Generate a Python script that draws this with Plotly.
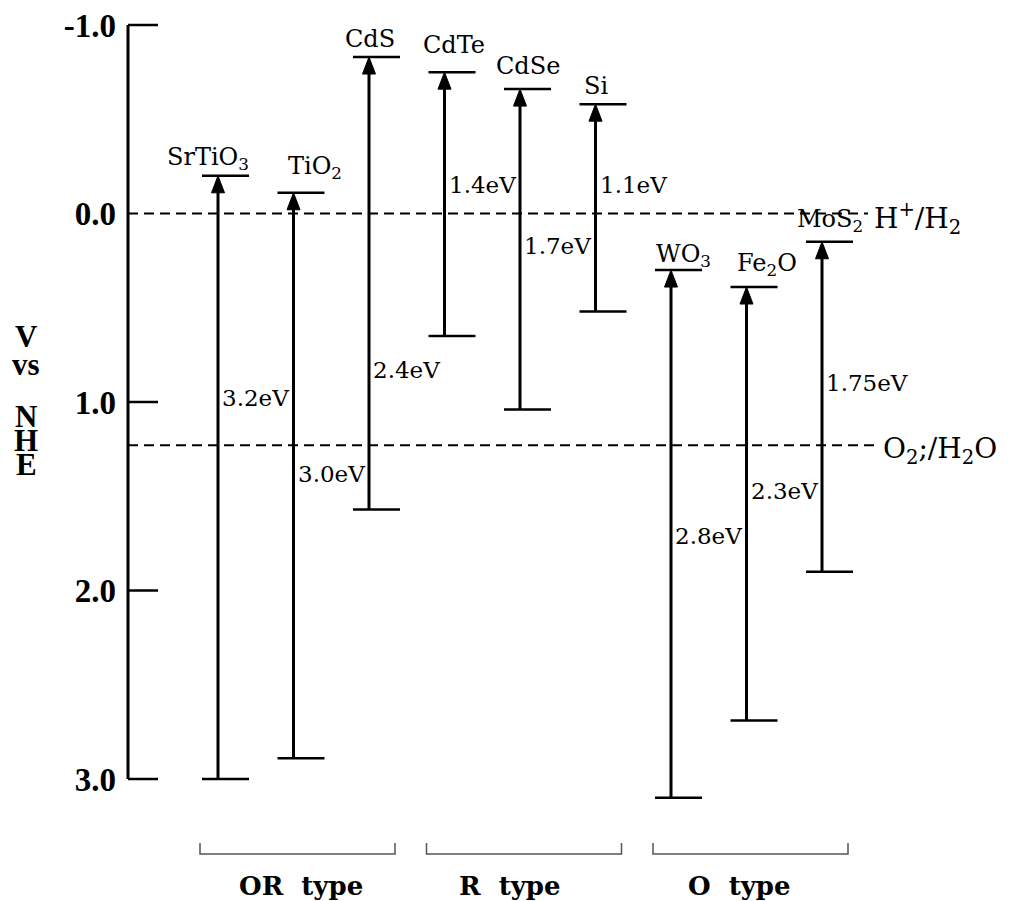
import plotly.graph_objects as go

# ---- data -------------------------------------------------------------
materials = ["SrTiO<sub>3</sub>", "TiO<sub>2</sub>", "CdS", "CdTe", "CdSe", "Si",
             "WO<sub>3</sub>", "Fe<sub>2</sub>O", "MoS<sub>2</sub>"]
conduction_band = [-0.20, -0.11, -0.83, -0.75, -0.66, -0.58, 0.30, 0.39, 0.15]  # V vs NHE
band_gap = [3.2, 3.0, 2.4, 1.4, 1.7, 1.1, 2.8, 2.3, 1.75]                       # eV
gap_labels = ["3.2eV", "3.0eV", "2.4eV", "1.4eV", "1.7eV", "1.1eV", "2.8eV", "2.3eV", "1.75eV"]

redox_potentials = [0.0, 1.23]
redox_labels = ["H<sup>+</sup>/H<sub>2</sub>", "O<sub>2</sub>;/H<sub>2</sub>O"]

group_names = ["OR  type", "R  type", "O  type"]
group_first = [0, 3, 6]
group_last = [2, 5, 8]

tick_values = [-1.0, 0.0, 1.0, 2.0, 3.0]
tick_text = ["-1.0", "0.0", "1.0", "2.0", "3.0"]

valence_band = [c + g for c, g in zip(conduction_band, band_gap)]

# ---- layout constants -------------------------------------------------
FIG_W, FIG_H = 1013, 901
X_PX = 75.5          # pixels per material slot
X_ORIGIN_PX = 218    # pixel column of the first material
Y_PX = 188.5         # pixels per volt
Y_ZERO_PX = 213.5    # pixel row of 0 V
AXIS_PX = 128

x_range = [-X_ORIGIN_PX / X_PX, (FIG_W - X_ORIGIN_PX) / X_PX]
y_range = [(FIG_H - Y_ZERO_PX) / Y_PX, -Y_ZERO_PX / Y_PX]
axis_x = (AXIS_PX - X_ORIGIN_PX) / X_PX


def dx(px):
    return px / X_PX


def dy(px):
    return px / Y_PX


SERIF = "DejaVu Serif"
SERIF_B = "Liberation Serif"

# label placement (pixels relative to the top of each bar)
name_dx = [-10, 21, 1, 9, 8, 0, 12, 20, 8]
name_dy = [4, 12, 6, 15, 11, 6, 1, 9, 8]
# vertical position of the band-gap labels (volts)
gap_label_y = [0.98, 1.38, 0.83, -0.15, 0.17, -0.15, 1.71, 1.47, 0.90]
# horizontal nudge of the group captions (pixels)
group_label_dx = [3, -14, -11]

fig = go.Figure()

idx = list(range(len(materials)))

# vertical band lines
xs, ys = [], []
for i in idx:
    xs += [i, i, None]
    ys += [valence_band[i], conduction_band[i] + dy(8), None]
fig.add_trace(go.Scatter(x=xs, y=ys, mode="lines",
                         line=dict(color="black", width=3), hoverinfo="skip"))

# band edge caps
xs, ys = [], []
for i in idx:
    for lev in (conduction_band[i], valence_band[i]):
        xs += [i - dx(16), i + dx(31), None]
        ys += [lev, lev, None]
fig.add_trace(go.Scatter(x=xs, y=ys, mode="lines",
                         line=dict(color="black", width=2.5), hoverinfo="skip"))

# arrow heads at the conduction band
xs, ys = [], []
for i in idx:
    cb = conduction_band[i]
    xs += [i - dx(6.5), i + dx(6.5), i, i - dx(6.5), None]
    ys += [cb + dy(17), cb + dy(17), cb, cb + dy(17), None]
fig.add_trace(go.Scatter(x=xs, y=ys, mode="lines", fill="toself",
                         fillcolor="black", line=dict(color="black", width=1),
                         hoverinfo="skip"))

shapes = []
annotations = []

# y axis line
shapes.append(dict(type="line", xref="x", yref="y", x0=axis_x, x1=axis_x,
                   y0=tick_values[0], y1=tick_values[-1],
                   line=dict(color="black", width=3)))

# tick marks (the 0 V tick is covered by the H+/H2 dashed level)
for tv in tick_values:
    if tv in redox_potentials:
        continue
    shapes.append(dict(type="line", xref="x", yref="y", x0=axis_x, x1=axis_x + dx(30),
                       y0=tv, y1=tv, line=dict(color="black", width=2.5)))

# redox reference levels
redox_end = [len(materials) - 1 + dx(46), len(materials) - 1 + dx(55)]
for pot, lab, xe in zip(redox_potentials, redox_labels, redox_end):
    shapes.append(dict(type="line", xref="x", yref="y", x0=axis_x, x1=xe,
                       y0=pot, y1=pot,
                       line=dict(color="black", width=2, dash="10px,6px")))
    annotations.append(dict(x=xe, y=pot, xref="x", yref="y", text=lab,
                            showarrow=False, xanchor="left", yanchor="middle",
                            xshift=4, yshift=-5,
                            font=dict(family=SERIF, size=28, color="black")))

# material names
for i in idx:
    annotations.append(dict(x=i, y=conduction_band[i], xref="x", yref="y",
                            text=materials[i], showarrow=False,
                            xanchor="center", yanchor="bottom",
                            xshift=name_dx[i], yshift=name_dy[i] - 4,
                            font=dict(family=SERIF, size=24, color="black")))

# band gap labels
for i in idx:
    annotations.append(dict(x=i, y=gap_label_y[i], xref="x", yref="y",
                            text=gap_labels[i], showarrow=False,
                            xanchor="left", yanchor="middle", xshift=2,
                            font=dict(family=SERIF, size=23, color="black")))

# group brackets
br_top = (843 - Y_ZERO_PX) / Y_PX
br_bot = (854 - Y_ZERO_PX) / Y_PX
lab_y = (886 - Y_ZERO_PX) / Y_PX
for name, a, b, sh in zip(group_names, group_first, group_last, group_label_dx):
    x0, x1 = a - dx(18), b + dx(26)
    shapes.append(dict(type="path", xref="x", yref="y",
                       path=f"M{x0},{br_top} L{x0},{br_bot} L{x1},{br_bot} L{x1},{br_top}",
                       line=dict(color="#555", width=1.5)))
    annotations.append(dict(x=(x0 + x1) / 2, y=lab_y, xref="x", yref="y",
                            text=name, showarrow=False, xshift=sh,
                            xanchor="center", yanchor="middle",
                            font=dict(family=SERIF, size=26, color="black",
                                      weight="bold")))

# vertical axis title, stacked letters (pixel positions from the top)
title_parts = [("V", 336), ("vs", 364), ("N", 416), ("H", 440), ("E", 465)]
for txt, py in title_parts:
    annotations.append(dict(x=26 / FIG_W, y=1 - py / FIG_H, xref="paper", yref="paper",
                            text=txt, showarrow=False,
                            xanchor="center", yanchor="middle",
                            font=dict(family=SERIF_B, size=31, color="black",
                                      weight="bold")))

fig.update_layout(
    width=FIG_W, height=FIG_H,
    margin=dict(l=0, r=0, t=0, b=0),
    paper_bgcolor="white", plot_bgcolor="white",
    showlegend=False,
    shapes=shapes, annotations=annotations,
    xaxis=dict(range=x_range, visible=False, domain=[0, 1]),
    yaxis=dict(range=y_range, anchor="free", position=AXIS_PX / FIG_W,
               showline=False, showgrid=False, zeroline=False,
               tickmode="array", tickvals=tick_values, ticktext=tick_text,
               ticks="", ticklabelstandoff=12,
               tickfont=dict(family=SERIF_B, size=33, color="black", weight="bold")),
)

fig.write_html("out.html")
